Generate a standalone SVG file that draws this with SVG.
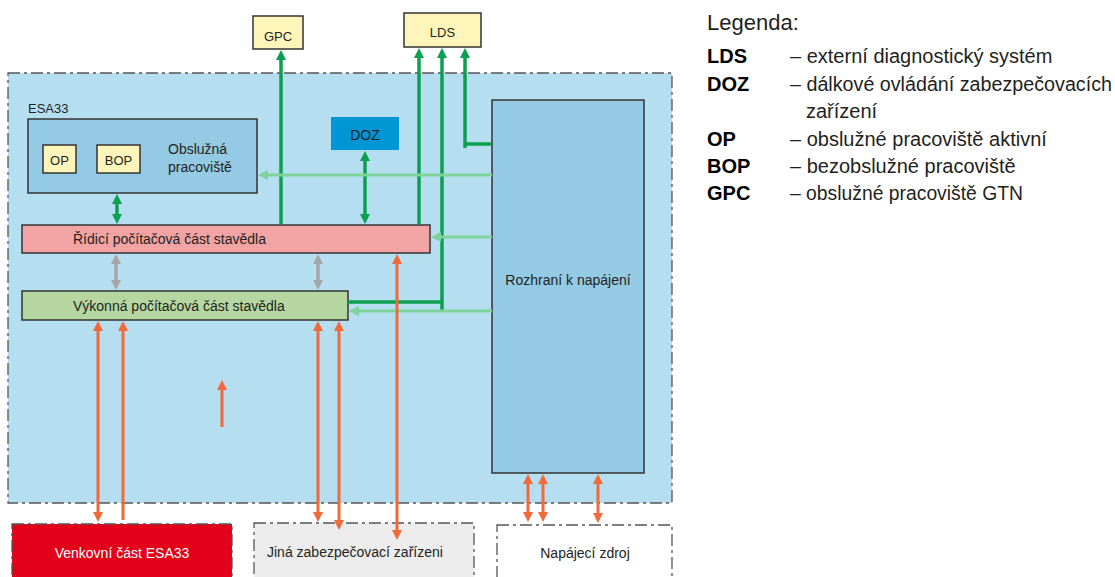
<svg xmlns="http://www.w3.org/2000/svg" width="1115" height="577" viewBox="0 0 1115 577">
<style>
text{font-family:"Liberation Sans",Arial,sans-serif;fill:#231f20}
.t13{font-size:13px}
.t14{font-size:14px}
.box{stroke:#333;stroke-width:1.5}
.dd{stroke:#555;stroke-width:1.3;stroke-dasharray:12 4 3 4;fill:none}
.dg{stroke:#0aa050;stroke-width:3.5;fill:none}
.lg{stroke:#7dd39a;stroke-width:3;fill:none}
.gr{stroke:#a6a6a6;stroke-width:3.5;fill:none}
.or{stroke:#f06a3a;stroke-width:3;fill:none}
.lgd{font-size:20px}
.lgb{font-size:20px;font-weight:bold;fill:#000}
</style>
<defs>
<marker id="aDg" viewBox="0 0 10 10" refX="6" refY="5" markerWidth="10" markerHeight="11" markerUnits="userSpaceOnUse" orient="auto-start-reverse"><path d="M0,0 L10,5 L0,10 z" fill="#0aa050"/></marker>
<marker id="aLg" viewBox="0 0 10 10" refX="6" refY="5" markerWidth="10" markerHeight="10" markerUnits="userSpaceOnUse" orient="auto-start-reverse"><path d="M0,0 L10,5 L0,10 z" fill="#7dd39a"/></marker>
<marker id="aGr" viewBox="0 0 10 10" refX="6" refY="5" markerWidth="10" markerHeight="10" markerUnits="userSpaceOnUse" orient="auto-start-reverse"><path d="M0,0 L10,5 L0,10 z" fill="#a6a6a6"/></marker>
<marker id="aOr" viewBox="0 0 10 10" refX="6" refY="5" markerWidth="10" markerHeight="10" markerUnits="userSpaceOnUse" orient="auto-start-reverse"><path d="M0,0 L10,5 L0,10 z" fill="#f06a3a"/></marker>
</defs>

<g id="esa33">
<rect x="8" y="73" width="664" height="430" fill="#b5def0"/>
<rect x="8" y="73" width="664" height="430" class="dd"/>
<text x="28" y="113" class="t13">ESA33</text>
</g>

<g id="gpc">
<rect x="253" y="16" width="50" height="33" fill="#fdf5b9" class="box"/>
<text x="278" y="41" class="t13" text-anchor="middle">GPC</text>
</g>
<g id="lds">
<rect x="404" y="13" width="77" height="34" fill="#fdf5b9" class="box"/>
<text x="442.5" y="37" class="t13" text-anchor="middle">LDS</text>
</g>

<g id="obsluzna">
<rect x="28" y="119" width="229" height="74" fill="#95cae4" class="box"/>
<text x="168" y="154" class="t14">Obslužná</text>
<text x="168" y="172" class="t14">pracoviště</text>
</g>
<g id="op">
<rect x="43" y="145" width="33" height="28" fill="#fdf5b9" class="box"/>
<text x="59.5" y="165" class="t13" text-anchor="middle">OP</text>
</g>
<g id="bop">
<rect x="97" y="145" width="43" height="28" fill="#fdf5b9" class="box"/>
<text x="118.5" y="165" class="t13" text-anchor="middle">BOP</text>
</g>

<g id="doz">
<rect x="331" y="117" width="68" height="33" fill="#0096d6"/>
<text x="365" y="140" class="t14" text-anchor="middle">DOZ</text>
</g>

<g id="ridici">
<rect x="22" y="225" width="408" height="28" fill="#f2a4a4" class="box"/>
<text x="73" y="244" class="t14">Řídicí počítačová část stavědla</text>
</g>
<g id="vykonna">
<rect x="22" y="291" width="326" height="29" fill="#b5d6a0" class="box"/>
<text x="73" y="311" class="t14">Výkonná počítačová část stavědla</text>
</g>

<g id="rozhrani">
<rect x="492" y="100" width="152" height="373" fill="#95cae4" class="box"/>
<text x="568" y="285" class="t14" text-anchor="middle">Rozhraní k napájení</text>
</g>

<g id="venkovni">
<rect x="12" y="524" width="220" height="70" fill="#e2001a"/>
<rect x="12" y="524" width="220" height="70" class="dd"/>
<text x="122" y="558" class="t14" text-anchor="middle" style="fill:#fff">Venkovní část ESA33</text>
</g>
<g id="jina">
<rect x="254" y="523" width="220" height="70" fill="#ececec"/>
<rect x="254" y="523" width="220" height="70" class="dd"/>
<text x="267" y="557" class="t14">Jiná zabezpečovací zařízeni</text>
</g>
<g id="napajeci">
<rect x="497" y="525" width="175" height="70" fill="#fff"/>
<rect x="497" y="525" width="175" height="70" class="dd"/>
<text x="585" y="558" class="t14" text-anchor="middle">Napájecí zdroj</text>
</g>

<g id="connectors">
<path class="dg" d="M281,224 V54" marker-end="url(#aDg)"/>
<path class="dg" d="M419,224 V52" marker-end="url(#aDg)"/>
<path class="dg" d="M348,302 H442"/>
<path class="dg" d="M442,310 V52" marker-end="url(#aDg)"/>
<path class="dg" d="M465,144 H492"/>
<path class="dg" d="M465,148 V52" marker-end="url(#aDg)"/>
<path class="dg" d="M365,155 V220" marker-start="url(#aDg)" marker-end="url(#aDg)"/>
<path class="dg" d="M117,198 V220" marker-start="url(#aDg)" marker-end="url(#aDg)"/>

<path class="lg" d="M492,175 H262" marker-end="url(#aLg)"/>
<path class="lg" d="M492,237 H435" marker-end="url(#aLg)"/>
<path class="lg" d="M492,311 H353" marker-end="url(#aLg)"/>

<path class="gr" d="M116,258 V286" marker-start="url(#aGr)" marker-end="url(#aGr)"/>
<path class="gr" d="M318,258 V286" marker-start="url(#aGr)" marker-end="url(#aGr)"/>

<path class="or" d="M98,325 V518" marker-start="url(#aOr)" marker-end="url(#aOr)"/>
<path class="or" d="M123,520 V325" marker-end="url(#aOr)"/>
<path class="or" d="M222,427 V384" marker-end="url(#aOr)"/>
<path class="or" d="M318,325 V518" marker-start="url(#aOr)" marker-end="url(#aOr)"/>
<path class="or" d="M339,325 V526" marker-start="url(#aOr)" marker-end="url(#aOr)"/>
<path class="or" d="M397,258 V536" marker-start="url(#aOr)" marker-end="url(#aOr)"/>
<path class="or" d="M528,478 V518" marker-start="url(#aOr)" marker-end="url(#aOr)"/>
<path class="or" d="M543,478 V518" marker-start="url(#aOr)" marker-end="url(#aOr)"/>
<path class="or" d="M598,478 V519" marker-start="url(#aOr)" marker-end="url(#aOr)"/>
</g>

<g id="legend">
<text x="707" y="30" style="font-size:22px">Legenda:</text>
<text x="707" y="63" class="lgb">LDS</text>
<text x="790" y="63" class="lgd">– externí diagnostický systém</text>
<text x="707" y="91" class="lgb">DOZ</text>
<text x="790" y="91" class="lgd" textLength="322" lengthAdjust="spacingAndGlyphs">– dálkové ovládání zabezpečovacích</text>
<text x="806" y="118" class="lgd">zařízení</text>
<text x="707" y="146" class="lgb">OP</text>
<text x="790" y="146" class="lgd">– obslužné pracoviště aktivní</text>
<text x="707" y="173" class="lgb">BOP</text>
<text x="790" y="173" class="lgd">– bezobslužné pracoviště</text>
<text x="707" y="200" class="lgb">GPC</text>
<text x="790" y="200" class="lgd" textLength="233" lengthAdjust="spacingAndGlyphs">– obslužné pracoviště GTN</text>
</g>
</svg>
